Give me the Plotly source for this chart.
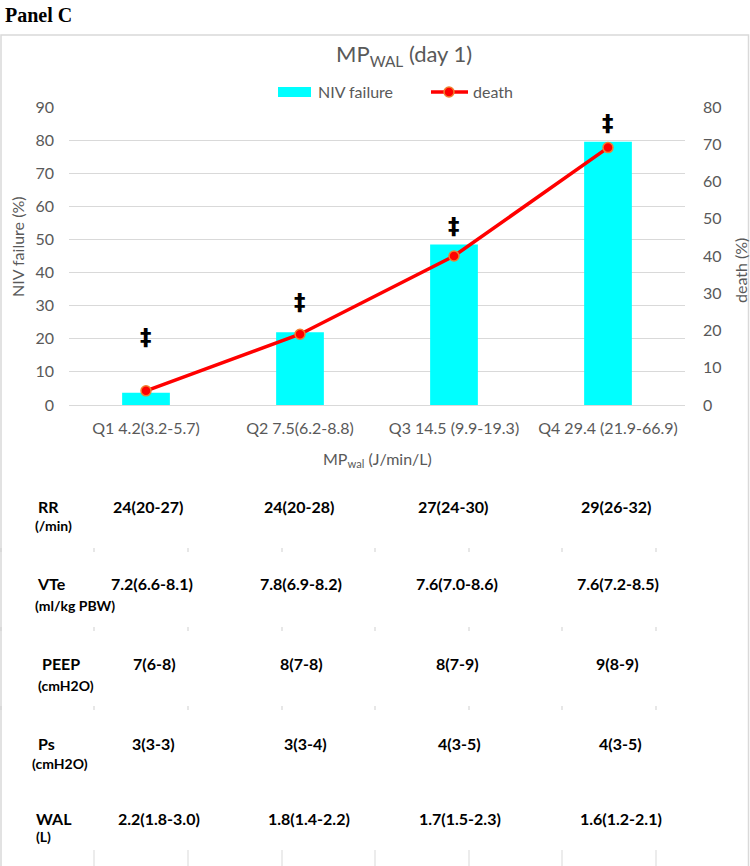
import plotly.graph_objects as go

# ---------------- data ----------------
categories = ["Q1 4.2(3.2-5.7)", "Q2 7.5(6.2-8.8)", "Q3 14.5 (9.9-19.3)", "Q4 29.4 (21.9-66.9)"]
niv_failure = [3.7, 22.0, 48.5, 79.5]      # left axis (%)
death = [3.8, 19.0, 40.0, 69.1]            # right axis (%)
dagger_y = [20.6, 31.2, 54.2, 85.1]        # height of significance marks (left-axis units)

row_labels = ["RR", "VTe", "PEEP", "Ps", "WAL"]
row_units = ["(/min)", "(ml/kg PBW)", "(cmH2O)", "(cmH2O)", "(L)"]
rr = ["24(20-27)", "24(20-28)", "27(24-30)", "29(26-32)"]
vte = ["7.2(6.6-8.1)", "7.8(6.9-8.2)", "7.6(7.0-8.6)", "7.6(7.2-8.5)"]
peep = ["7(6-8)", "8(7-8)", "8(7-9)", "9(8-9)"]
ps = ["3(3-3)", "3(3-4)", "4(3-5)", "4(3-5)"]
wal = ["2.2(1.8-3.0)", "1.8(1.4-2.2)", "1.7(1.5-2.3)", "1.6(1.2-2.1)"]
table_rows = [rr, vte, peep, ps, wal]

# ---------------- layout geometry (pixels) ----------------
W, H = 750, 866
L, R, T, B = 69, 685, 107, 405
PW, PH = R - L, B - T


def px(x):
    return (x - L) / PW


def py(y):
    return (B - y) / PH


GRAY = "#595959"
GRID = "#d9d9d9"
FONT = "Lato"

fig = go.Figure()
fig.add_trace(go.Bar(
    x=categories, y=niv_failure, name="NIV failure",
    marker=dict(color="#00ffff", line=dict(width=0)), width=0.31,
    showlegend=False, yaxis="y"))
fig.add_trace(go.Scatter(
    x=categories, y=death, name="death", mode="lines+markers",
    line=dict(color="#ff0000", width=3.5),
    marker=dict(size=10, color="#ff0000", line=dict(color="#f08030", width=1.5)),
    showlegend=False, yaxis="y2"))

annotations = []
shapes = []

# significance marks
for c, yv in zip(categories, dagger_y):
    annotations.append(dict(x=c, y=yv, xref="x", yref="y", text="<b>‡</b>", showarrow=False,
                            font=dict(family="DejaVu Sans", size=23, color="black"),
                            xanchor="center", yanchor="middle"))

# Panel label
annotations.append(dict(x=px(3), y=py(15), xref="paper", yref="paper", text="<b>Panel C</b>",
                        showarrow=False, xanchor="left", yanchor="middle",
                        font=dict(family="Liberation Serif", size=20, color="black")))
# title
annotations.append(dict(x=px(404), y=py(55), xref="paper", yref="paper",
                        text="MP<sub>WAL</sub> (day 1)", showarrow=False,
                        xanchor="center", yanchor="middle",
                        font=dict(family=FONT, size=22, color=GRAY)))
# custom legend
shapes.append(dict(type="rect", xref="paper", yref="paper", x0=px(278), x1=px(311), y0=py(97), y1=py(87),
                   fillcolor="#00ffff", line=dict(width=0)))
annotations.append(dict(x=px(316), y=py(92), xref="paper", yref="paper", text="NIV failure",
                        showarrow=False, xanchor="left", yanchor="middle",
                        font=dict(family=FONT, size=16, color=GRAY)))
shapes.append(dict(type="line", xref="paper", yref="paper", x0=px(431), x1=px(468), y0=py(92), y1=py(92),
                   line=dict(color="#ff0000", width=3.5)))
shapes.append(dict(type="circle", xref="paper", yref="paper", x0=px(444), x1=px(454), y0=py(97), y1=py(87),
                   fillcolor="#ff0000", line=dict(color="#f08030", width=1.5)))
annotations.append(dict(x=px(471), y=py(92), xref="paper", yref="paper", text="death",
                        showarrow=False, xanchor="left", yanchor="middle",
                        font=dict(family=FONT, size=16, color=GRAY)))
# axis titles
annotations.append(dict(x=px(17), y=py(247), xref="paper", yref="paper", text="NIV failure (%)",
                        textangle=-90, showarrow=False, xanchor="center", yanchor="middle",
                        font=dict(family=FONT, size=16, color=GRAY)))
annotations.append(dict(x=px(740), y=py(270), xref="paper", yref="paper", text="death (%)",
                        textangle=-90, showarrow=False, xanchor="center", yanchor="middle",
                        font=dict(family=FONT, size=16, color=GRAY)))
annotations.append(dict(x=px(377), y=py(459), xref="paper", yref="paper",
                        text="MP<sub>wal</sub> (J/min/L)", showarrow=False,
                        xanchor="center", yanchor="middle",
                        font=dict(family=FONT, size=16, color=GRAY)))

# table
cell_x = [[148, 299, 453, 616],
          [152, 301, 457, 618],
          [154, 301, 457, 617],
          [153, 305, 459, 620],
          [159, 309, 460, 621]]
row_y = [506, 583, 663, 743, 818]
unit_y = [525, 605, 685, 763, 837]
label_x = [36, 35, 40, 36, 34]
unit_x = [33, 33, 36, 30, 34]
for i in range(5):
    annotations.append(dict(x=px(label_x[i]), y=py(row_y[i]), xref="paper", yref="paper",
                            text="<b>%s</b>" % row_labels[i], showarrow=False,
                            xanchor="left", yanchor="middle",
                            font=dict(family=FONT, size=16, color="black")))
    annotations.append(dict(x=px(unit_x[i]), y=py(unit_y[i]), xref="paper", yref="paper",
                            text="<b>%s</b>" % row_units[i], showarrow=False,
                            xanchor="left", yanchor="middle",
                            font=dict(family=FONT, size=14, color="black")))
    for j in range(4):
        annotations.append(dict(x=px(cell_x[i][j]), y=py(row_y[i]), xref="paper", yref="paper",
                                text="<b>%s</b>" % table_rows[i][j], showarrow=False,
                                xanchor="center", yanchor="middle",
                                font=dict(family=FONT, size=16, color="black")))

sep_x = [94, 188, 282, 375, 469, 562, 656]
for yy in [550, 629, 708]:
    for xx in sep_x + [1]:
        shapes.append(dict(type="line", xref="paper", yref="paper", x0=px(xx), x1=px(xx),
                           y0=py(yy - 2), y1=py(yy + 2), line=dict(color="#cfcfcf", width=1)))
for xx in sep_x:
    shapes.append(dict(type="line", xref="paper", yref="paper", x0=px(xx), x1=px(xx),
                       y0=py(850), y1=py(867), line=dict(color=GRID, width=1)))

# outer frame
shapes.append(dict(type="rect", xref="paper", yref="paper", x0=px(1), x1=px(748.5), y0=py(870), y1=py(35),
                   line=dict(color=GRID, width=1.5), fillcolor="rgba(0,0,0,0)", layer="below"))

fig.update_layout(
    width=W, height=H,
    margin=dict(l=L, r=W - R, t=T, b=H - B, pad=0),
    paper_bgcolor="white", plot_bgcolor="white",
    showlegend=False,
    bargap=0.69,
    font=dict(family=FONT, color=GRAY, size=16),
    xaxis=dict(showgrid=False, showline=False, zeroline=False, ticks="",
               tickfont=dict(family=FONT, size=16, color=GRAY), ticklabelstandoff=12),
    yaxis=dict(range=[0, 90], dtick=10, showgrid=True, gridcolor=GRID, gridwidth=1,
               zeroline=True, zerolinecolor=GRID, zerolinewidth=1, showline=False, ticks="",
               tickfont=dict(family=FONT, size=16, color=GRAY), ticklabelstandoff=14),
    yaxis2=dict(range=[0, 80], dtick=10, overlaying="y", side="right", showgrid=False,
                zeroline=False, showline=False, ticks="",
                tickfont=dict(family=FONT, size=16, color=GRAY), ticklabelstandoff=17),
    annotations=annotations, shapes=shapes,
)

fig.write_html("out.html", config={"displayModeBar": False},
               post_script="document.body.style.margin='0';document.body.style.overflow='hidden';")
